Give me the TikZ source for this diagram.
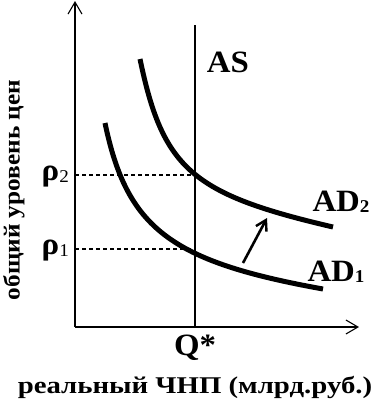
\documentclass[tikz,border=0pt]{standalone}
\usepackage{fontspec}
\usepackage{graphicx}
\setmainfont{Liberation Serif}
\usetikzlibrary{arrows.meta}
\newcommand{\mywide}[2][1.06]{\scalebox{#1}[1]{#2}}
\newcommand{\mysub}[1]{\raisebox{-1.5pt}{\fontsize{18}{18}\selectfont #1}}
\begin{document}
\begin{tikzpicture}[x=1pt,y=-1pt,
  axis/.style={line width=1.8pt,-{Straight Barb[length=12pt,width=14pt,line width=1.1pt]}},
  curve/.style={line width=5pt},
  guide/.style={line width=1.8pt,dash pattern=on 4pt off 3pt},
  lbl/.style={font=\bfseries\fontsize{31}{31}\selectfont,inner sep=0pt},
  shiftarrow/.style={line width=2.6pt,-{Straight Barb[length=10pt,width=12pt,line width=2.4pt]}}]
\useasboundingbox (0,0) rectangle (373,400);
% coordinates
\coordinate (O) at (75,327);
\coordinate (Ytop) at (75,1);
\coordinate (Xend) at (359,327);
\coordinate (AStop) at (195,25);
\coordinate (ASbot) at (195,327);
\coordinate (P2a) at (75,175);
\coordinate (P2b) at (195,175);
\coordinate (P1a) at (75,249);
\coordinate (P1b) at (195,249);
\coordinate (Sa) at (243,263);
\coordinate (Sb) at (267,218);
\coordinate (D1s) at (105,123);
\coordinate (D1e) at (323,289);
\coordinate (D2s) at (140,59);
\coordinate (D2e) at (333,227);
% axes
\draw[axis] (O) -- (Ytop);
\draw[axis] (O) -- (Xend);
% AS
\draw[line width=1.8pt] (ASbot) -- (AStop);
% dashed guides
\draw[guide] (P2a) -- (P2b);
\draw[guide] (P1a) -- (P1b);
% curves
\draw[curve] (D1s) .. controls (126.9,228.4) and (170.5,261.6) .. (D1e);
\draw[curve] (D2s) .. controls (162.9,169.0) and (191.9,194.2) .. (D2e);
% shift arrow
\draw[shiftarrow] (Sa) -- (Sb);
% labels
\node[lbl] (AS) at (228,62) {\mywide{AS}};
\node[lbl] (AD2) at (341,202) {\mywide{AD\mysub{2}}};
\node[lbl] (AD1) at (336,272) {\mywide{AD\mysub{1}}};
\node[lbl,anchor=east] (p2) at (69,177) {\mywide{ρ\mysub{\mdseries 2}}};
\node[lbl,anchor=east] (p1) at (69,251) {\mywide{ρ\mysub{\mdseries 1}}};
\node[lbl] (Q) at (195,348) {\mywide{Q*}};
\node[inner sep=0pt,font=\bfseries\fontsize{24}{24}\selectfont] (xl) at (195,387) {\mywide[1.2]{реальный ЧНП (млрд.руб.)}};
\node[inner sep=0pt,rotate=90,font=\bfseries\fontsize{23}{23}\selectfont] (yl) at (14,190) {\mywide[1.1]{общий уровень цен}};
\end{tikzpicture}
\end{document}
